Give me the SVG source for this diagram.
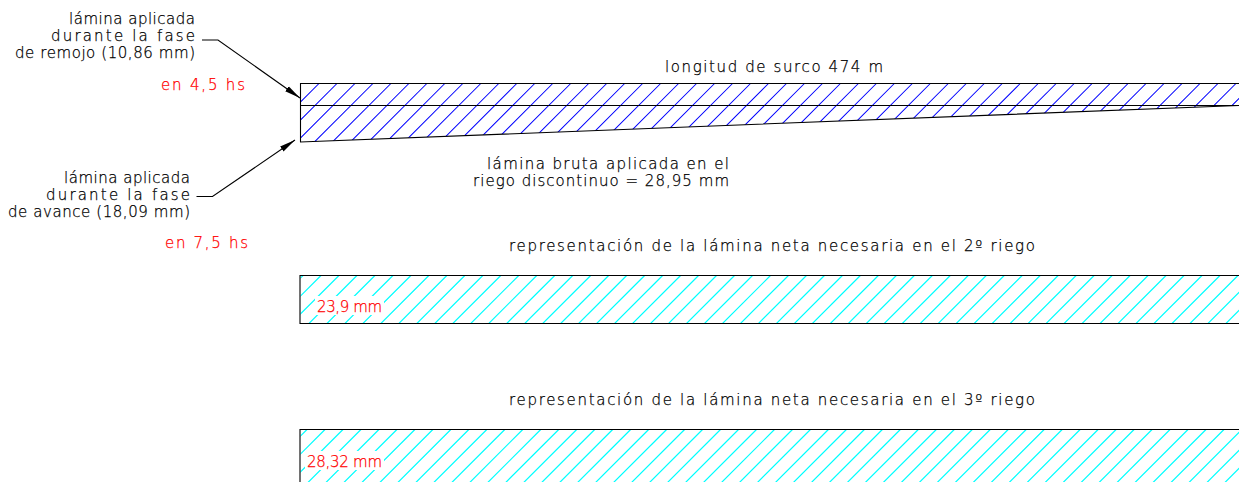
<svg xmlns="http://www.w3.org/2000/svg" width="1239" height="482" viewBox="0 0 1239 482">
<style>
text{font-family:"DejaVu Sans ExtraLight","DejaVu Sans Light","DejaVu Sans",sans-serif;font-size:15px;font-weight:200;fill:#000;stroke:#000;stroke-width:.25;transform:translate(0,.5px)}
.r{fill:#ff0000;stroke:#ff0000}
.o{fill:none;stroke:#000;stroke-width:1.1}
.b{stroke:#0000ff;fill:none;stroke-width:1.05}
.c{stroke:#00ffff;fill:none;stroke-width:1.2}
</style>
<defs>
<path id="h" d="M0 0l-60 60m77.98-60l-60 60m77.98-60l-60 60m77.98-60l-60 60m77.98-60l-60 60m77.98-60l-60 60m77.98-60l-60 60m77.98-60l-60 60m77.98-60l-60 60m77.98-60l-60 60m77.98-60l-60 60m77.98-60l-60 60m77.98-60l-60 60m77.98-60l-60 60m77.98-60l-60 60m77.98-60l-60 60m77.98-60l-60 60m77.98-60l-60 60m77.98-60l-60 60m77.98-60l-60 60m77.98-60l-60 60m77.98-60l-60 60m77.98-60l-60 60m77.98-60l-60 60m77.98-60l-60 60m77.98-60l-60 60m77.98-60l-60 60m77.98-60l-60 60m77.98-60l-60 60m77.98-60l-60 60m77.98-60l-60 60m77.98-60l-60 60m77.98-60l-60 60m77.98-60l-60 60m77.98-60l-60 60m77.98-60l-60 60m77.98-60l-60 60m77.98-60l-60 60m77.98-60l-60 60m77.98-60l-60 60m77.98-60l-60 60m77.98-60l-60 60m77.98-60l-60 60m77.98-60l-60 60m77.98-60l-60 60m77.98-60l-60 60m77.98-60l-60 60m77.98-60l-60 60m77.98-60l-60 60m77.98-60l-60 60m77.98-60l-60 60m77.98-60l-60 60m77.98-60l-60 60m77.98-60l-60 60m77.98-60l-60 60m77.98-60l-60 60"/>
<clipPath id="cb"><path d="M300.500 83.500H1239V105.500L300.500 142Z"/></clipPath>
<clipPath id="c1"><rect x="300.500" y="275.500" width="939" height="48"/></clipPath>
<clipPath id="c2"><rect x="300.500" y="429.500" width="939" height="53"/></clipPath>
<marker id="a" markerUnits="userSpaceOnUse" markerWidth="17" markerHeight="8" refX="16" refY="4" orient="auto"><path d="M0 1L16 4L0 7Z" fill="#000"/></marker>
</defs>
<g id="lamina-bruta">
<g clip-path="url(#cb)"><use href="#h" x="301" y="83.500" class="b"/></g>
<path class="o" d="M1239 83.500H300.500V142L1239 105.500M300.500 105.500H1239"/>
</g>
<g id="lamina-2">
<g clip-path="url(#c1)"><use href="#h" x="303" y="275.500" class="c"/></g>
<rect x="315" y="296" width="69" height="19" fill="#fff"/>
<path class="o" d="M1239 275.500H300V323.500H1239"/>
<text class="r" x="317" y="311" textLength="65">23,9 mm</text>
</g>
<g id="lamina-3">
<g clip-path="url(#c2)"><use href="#h" x="307" y="429.500" class="c"/></g>
<rect x="305" y="451" width="79" height="19" fill="#fff"/>
<path class="o" d="M1239 429.500H300V482"/>
<text class="r" x="307" y="466" textLength="75">28,32 mm</text>
</g>
<g id="connectors">
<path class="o" marker-end="url(#a)" d="M202 40H218L300 98"/>
<path class="o" marker-end="url(#a)" d="M196.500 196.500H212.500L295 140"/>
</g>
<g id="label-remojo">
<text x="69" y="23" textLength="126">lámina aplicada</text>
<text x="51" y="40" textLength="144">durante la fase</text>
<text x="15" y="57" textLength="180">de remojo (10,86 mm)</text>
<text class="r" x="161" y="89" textLength="84">en 4,5 hs</text>
</g>
<g id="label-avance">
<text x="64" y="182" textLength="126">lámina aplicada</text>
<text x="46" y="199" textLength="144">durante la fase</text>
<text x="8" y="216" textLength="182">de avance (18,09 mm)</text>
<text class="r" x="165" y="247" textLength="83">en 7,5 hs</text>
</g>
<g id="label-longitud"><text x="665" y="71" textLength="218">longitud de surco 474 m</text></g>
<g id="label-bruta">
<text x="487" y="168" textLength="242">lámina bruta aplicada en el</text>
<text x="473" y="185" textLength="256">riego discontinuo = 28,95 mm</text>
</g>
<g id="title-2"><text x="509" y="250" textLength="526">representación de la lámina neta necesaria en el 2º riego</text></g>
<g id="title-3"><text x="509" y="404" textLength="526">representación de la lámina neta necesaria en el 3º riego</text></g>
</svg>
